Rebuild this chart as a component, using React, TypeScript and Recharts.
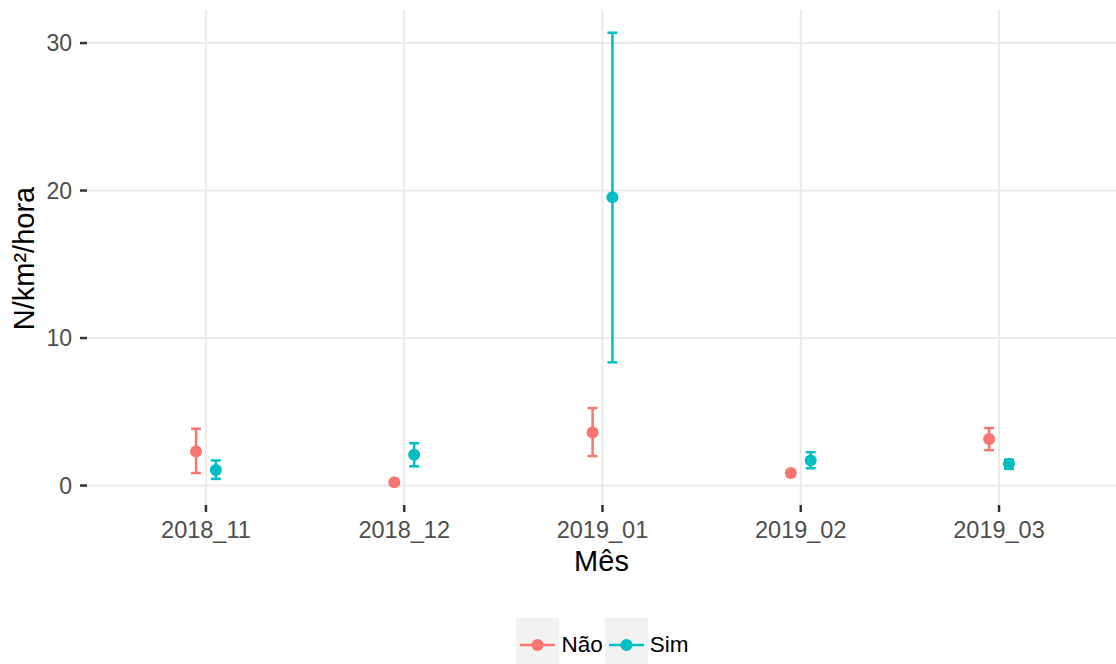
import React from 'react';
import {
  ScatterChart,
  Scatter,
  XAxis,
  YAxis,
  CartesianGrid,
  ErrorBar,
  Legend,
} from 'recharts';

// Monthly density estimates (N/km²/hora) with interval bounds, split by group
const months = ['2018_11', '2018_12', '2019_01', '2019_02', '2019_03'];

const naoMean = [2.3, 0.22, 3.6, 0.85, 3.15];
const naoLow = [0.85, 0.1, 2.0, 0.7, 2.4];
const naoHigh = [3.85, 0.35, 5.25, 1.0, 3.9];

const simMean = [1.05, 2.08, 19.55, 1.7, 1.47];
const simLow = [0.45, 1.3, 8.35, 1.17, 1.13];
const simHigh = [1.7, 2.87, 30.7, 2.26, 1.75];

const yTicks = [0, 10, 20, 30];
const xTicks = months.map((_, i) => i);

const NAO_COLOR = '#F8766D';
const SIM_COLOR = '#00BFC4';
const DODGE = 0.05;

const FONT = '"Liberation Sans", Arial, Helvetica, sans-serif';

const buildSeries = (mean: number[], low: number[], high: number[], shift: number) =>
  mean.map((m, i) => ({
    x: i + shift,
    y: m,
    err: [m - low[i], high[i] - m],
  }));

const naoData = buildSeries(naoMean, naoLow, naoHigh, -DODGE);
const simData = buildSeries(simMean, simLow, simHigh, DODGE);

const dot = (color: string) => (props: any) =>
  <circle cx={props.cx} cy={props.cy} r={6} fill={color} />;

const YTitle = (props: any) => {
  const vb = props.viewBox || { x: 0, y: 0, width: 0, height: 0 };
  const cx = vb.x + 34;
  const cy = vb.y + vb.height / 2 + 1;
  return (
    <text
      x={cx}
      y={cy}
      transform={`rotate(-90, ${cx}, ${cy})`}
      textAnchor="middle"
      fill="#000"
      fontSize={29}
      fontFamily={FONT}
    >
      N/km²/hora
    </text>
  );
};

const LegendKey = ({ color }: { color: string }) => (
  <svg width={43} height={46} style={{ display: 'block' }}>
    <rect x={0} y={0} width={43} height={46} fill="#F2F2F2" />
    <line x1={4} x2={39} y1={27} y2={27} stroke={color} strokeWidth={2.5} />
    <circle cx={21.5} cy={27} r={6} fill={color} />
  </svg>
);

const LegendContent = () => (
  <div
    style={{
      display: 'flex',
      justifyContent: 'center',
      alignItems: 'flex-start',
      fontFamily: FONT,
      fontSize: 22.5,
      color: '#000',
    }}
  >
    <LegendKey color={NAO_COLOR} />
    <span style={{ lineHeight: '54px', marginLeft: 2, marginRight: 2 }}>Não</span>
    <LegendKey color={SIM_COLOR} />
    <span style={{ lineHeight: '54px', marginLeft: 2 }}>Sim</span>
  </div>
);

export default function App() {
  return (
    <div style={{ position: 'absolute', left: 0, top: 0, width: 1116, height: 664, background: '#fff' }}>
      <ScatterChart
        width={1116}
        height={664}
        margin={{ top: 10, right: 0, bottom: 79, left: 0 }}
        style={{ fontFamily: FONT }}
      >
        <CartesianGrid stroke="#EBEBEB" strokeWidth={2} syncWithTicks />
        <XAxis
          type="number"
          dataKey="x"
          domain={[-0.6, 4.59]}
          ticks={xTicks}
          tickFormatter={(v: number) => months[Math.round(v)] ?? ''}
          height={80}
          axisLine={false}
          tickLine={{ stroke: '#333333', strokeWidth: 2.5 }}
          tickSize={7}
          tickMargin={9}
          tick={{ fill: '#4D4D4D', fontSize: 23.5, fontFamily: FONT }}
          interval={0}
          allowDataOverflow
          label={{ value: 'Mês', position: 'insideBottom', offset: 14, fill: '#000', fontSize: 29, fontFamily: FONT }}
        />
        <YAxis
          type="number"
          dataKey="y"
          domain={[-1.32, 32.24]}
          ticks={yTicks}
          width={87}
          axisLine={false}
          tickLine={{ stroke: '#333333', strokeWidth: 2.5 }}
          tickSize={7}
          tickMargin={8}
          tick={{ fill: '#4D4D4D', fontSize: 23, fontFamily: FONT }}
          allowDataOverflow
          label={<YTitle />}
        />
        <Legend
          layout="horizontal"
          verticalAlign="middle"
          align="center"
          wrapperStyle={{ top: 618, left: 87, width: 1031, height: 46 }}
          content={<LegendContent />}
        />
        <Scatter name="Não" data={naoData} fill={NAO_COLOR} shape={dot(NAO_COLOR)} isAnimationActive={false}>
          <ErrorBar dataKey="err" direction="y" width={5} stroke={NAO_COLOR} strokeWidth={2.5} isAnimationActive={false} />
        </Scatter>
        <Scatter name="Sim" data={simData} fill={SIM_COLOR} shape={dot(SIM_COLOR)} isAnimationActive={false}>
          <ErrorBar dataKey="err" direction="y" width={5} stroke={SIM_COLOR} strokeWidth={2.5} isAnimationActive={false} />
        </Scatter>
      </ScatterChart>
    </div>
  );
}
